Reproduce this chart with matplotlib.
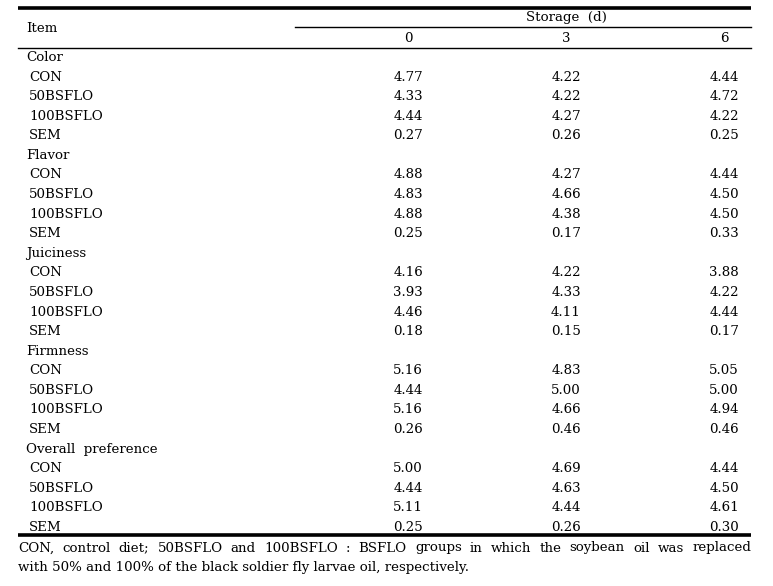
import matplotlib
matplotlib.use("Agg")
import matplotlib.pyplot as plt

items = ["Color", "Flavor", "Juiciness", "Firmness", "Overall  preference"]
groups = ["CON", "50BSFLO", "100BSFLO", "SEM"]
days = ["0", "3", "6"]
day0 = [4.77, 4.33, 4.44, 0.27, 4.88, 4.83, 4.88, 0.25, 4.16, 3.93, 4.46, 0.18,
        5.16, 4.44, 5.16, 0.26, 5.00, 4.44, 5.11, 0.25]
day3 = [4.22, 4.22, 4.27, 0.26, 4.27, 4.66, 4.38, 0.17, 4.22, 4.33, 4.11, 0.15,
        4.83, 5.00, 4.66, 0.46, 4.69, 4.63, 4.44, 0.26]
day6 = [4.44, 4.72, 4.22, 0.25, 4.44, 4.50, 4.50, 0.33, 3.88, 4.22, 4.44, 0.17,
        5.05, 5.00, 4.94, 0.46, 4.44, 4.50, 4.61, 0.30]
footnote = ["CON, control diet; 50BSFLO and 100BSFLO : BSFLO groups in which the soybean oil was replaced",
            "with 50% and 100% of the black soldier fly larvae oil, respectively."]

W, H = 773, 586
fig = plt.figure(figsize=(W / 100, H / 100), dpi=100)
ax = fig.add_axes([0, 0, 1, 1])
ax.set_xlim(0, W)
ax.set_ylim(H, 0)
ax.axis("off")

FONT = "DejaVu Serif"
FS = 9.6
L, R = 18, 751
colx = [408, 566, 724]

# rules
ax.plot([L, R], [8, 8], color="black", lw=2.6, solid_capstyle="butt")
ax.plot([295, R], [27, 27], color="black", lw=1.0)
ax.plot([L, R], [48, 48], color="black", lw=1.0)
ax.plot([L, R], [535, 535], color="black", lw=2.6, solid_capstyle="butt")

txt = dict(fontsize=FS, family=FONT, va="center", color="black")
ax.text(26, 28, "Item", ha="left", **txt)
ax.text(566, 17, "Storage  (d)", ha="center", **txt)
for x, d in zip(colx, days):
    ax.text(x, 39, d, ha="center", **txt)

y0 = 57.5
step = 19.58
row = 0
k = 0
for item in items:
    ax.text(26, y0 + row * step, item, ha="left", **txt)
    row += 1
    for g in groups:
        y = y0 + row * step
        ax.text(29, y, g, ha="left", **txt)
        for x, vals in zip(colx, [day0, day3, day6]):
            ax.text(x, y, f"{vals[k]:.2f}", ha="center", **txt)
        row += 1
        k += 1

# footnote: first line justified
fig.canvas.draw()
renderer = fig.canvas.get_renderer()
inv = ax.transData.inverted()

def word_width(w):
    t = ax.text(0, 0, w, fontsize=FS, family=FONT)
    bb = t.get_window_extent(renderer)
    t.remove()
    p0 = inv.transform((bb.x0, bb.y0))
    p1 = inv.transform((bb.x1, bb.y0))
    return p1[0] - p0[0]

words = footnote[0].split(" ")
widths = [word_width(w) for w in words]
gap = (R - L - sum(widths)) / (len(words) - 1)
x = L
for w, wd in zip(words, widths):
    ax.text(x, 548, w, ha="left", **txt)
    x += wd + gap
ax.text(L, 567, footnote[1], ha="left", **txt)

fig.savefig("out.png", dpi=100)
